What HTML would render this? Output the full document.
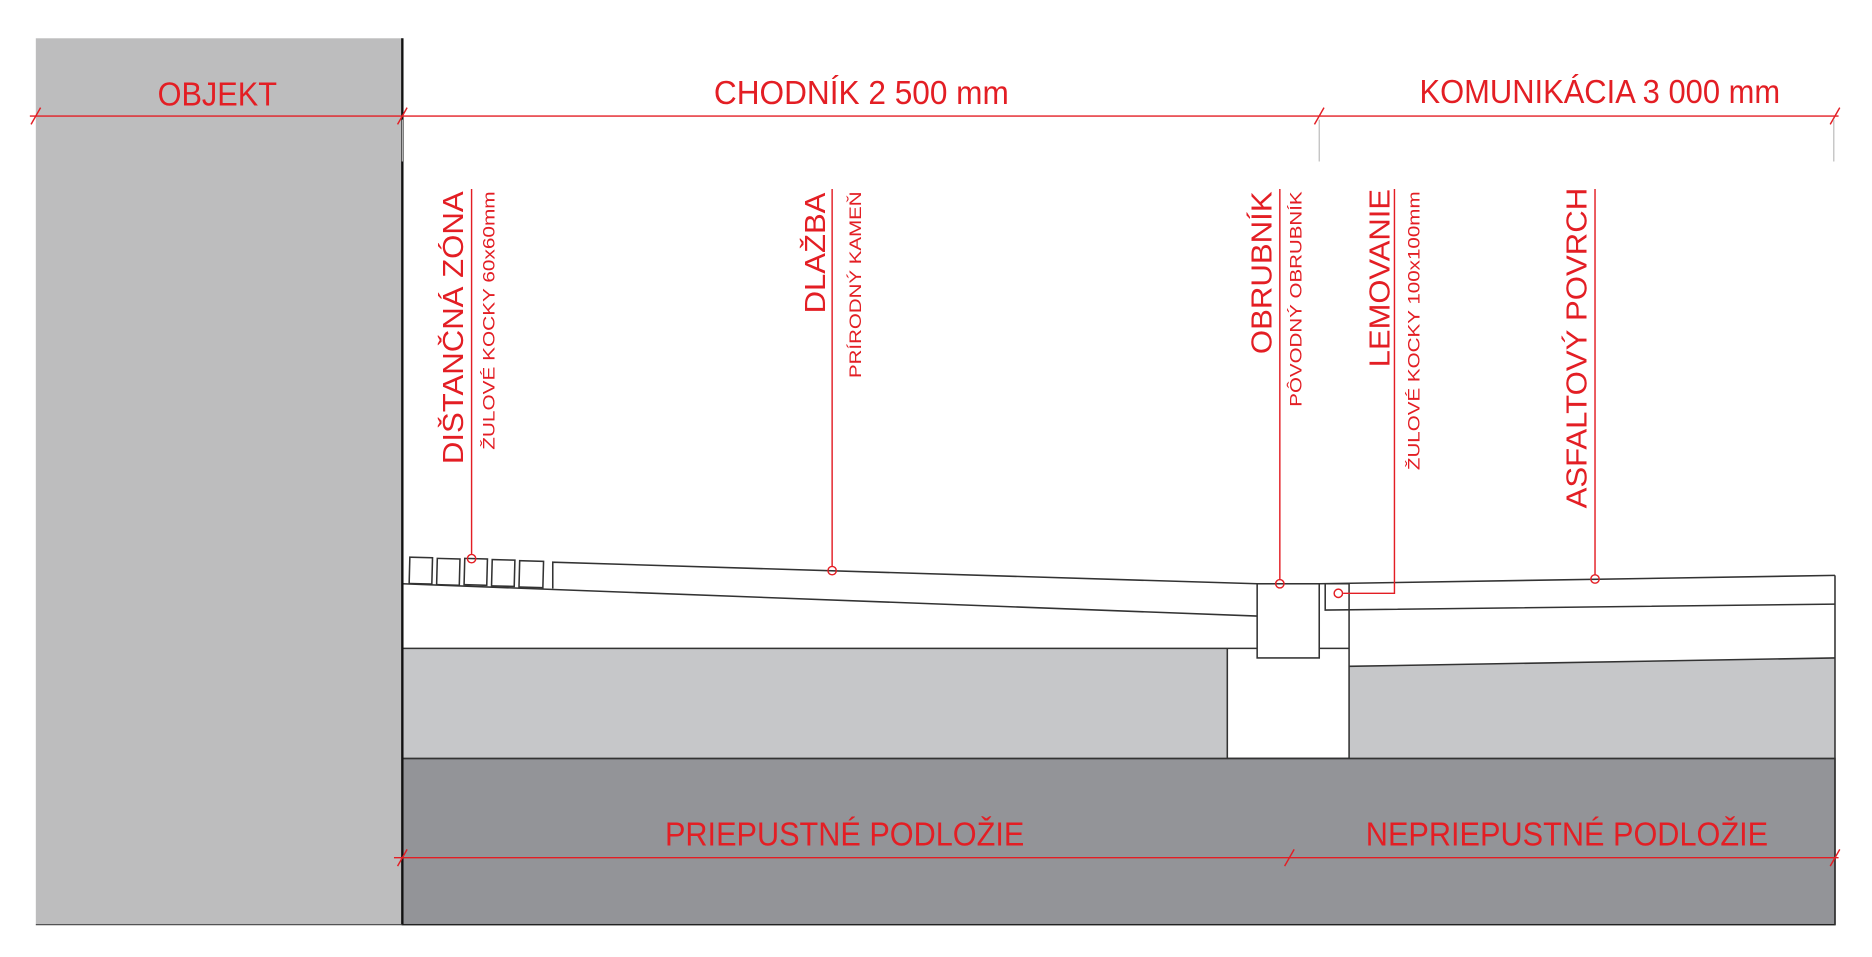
<!DOCTYPE html>
<html><head><meta charset="utf-8"><style>html,body{margin:0;padding:0;background:#fff;}svg{display:block;}</style></head>
<body>
<svg width="1872" height="957" viewBox="0 0 1568 800" preserveAspectRatio="none" xmlns="http://www.w3.org/2000/svg" font-family="Liberation Sans, sans-serif">
<rect width="1568" height="800" fill="#fff"/>
<rect x="30" y="32" width="307" height="741" fill="#bdbdbe"/>
<rect x="337" y="634" width="1200" height="139" fill="#939498" stroke="#222" stroke-width="1.2"/>
<rect x="337" y="542" width="691" height="92" fill="#c6c7c9"/>
<polygon points="1130,557 1537,550 1537,634 1130,634" fill="#c6c7c9"/>
<g fill="none" stroke="#333" stroke-width="1.3">
<line x1="337" y1="542" x2="1053" y2="542"/>
<line x1="1105" y1="542" x2="1130" y2="542"/>
<line x1="1028" y1="542" x2="1028" y2="634"/>
<line x1="1130" y1="488" x2="1130" y2="634"/>
<line x1="337" y1="634" x2="1537" y2="634"/>
<line x1="1130" y1="557" x2="1537" y2="550"/>
<line x1="1537" y1="481" x2="1537" y2="773"/>
<rect x="343" y="466" width="19" height="22" transform="rotate(1.5 352 477)"/>
<rect x="366" y="467" width="19" height="22" transform="rotate(1.5 375 478)"/>
<rect x="389" y="467" width="19" height="22" transform="rotate(1.5 398 478)"/>
<rect x="412" y="468" width="19" height="22" transform="rotate(1.5 421 479)"/>
<rect x="435" y="469" width="20" height="22" transform="rotate(1.5 445 480)"/>
<polyline points="463,492 463,470 1053,488"/>
<line x1="337" y1="488" x2="1053" y2="515"/>
<line x1="1053" y1="488" x2="1105" y2="488"/>
<rect x="1053" y="488" width="52" height="62" fill="#fff"/>
<line x1="1105" y1="488" x2="1537" y2="481"/>
<polyline points="1130,488 1110,488 1110,510 1537,505"/>
</g>
<line x1="337" y1="32" x2="337" y2="773" stroke="#111" stroke-width="2"/>
<line x1="30" y1="773" x2="337" y2="773" stroke="#444" stroke-width="1"/>
<g stroke="#e31e24" stroke-width="1.2" fill="none">
<line x1="25" y1="97" x2="1540" y2="97"/>
<line x1="26" y1="104" x2="34" y2="90"/>
<line x1="333" y1="104" x2="341" y2="90"/>
<line x1="1101" y1="104" x2="1109" y2="90"/>
<line x1="1533" y1="104" x2="1541" y2="90"/>
<line x1="330" y1="717" x2="1540" y2="717"/>
<line x1="333" y1="724" x2="341" y2="710"/>
<line x1="1076" y1="724" x2="1084" y2="710"/>
<line x1="1533" y1="724" x2="1541" y2="710"/>
<line x1="395" y1="158" x2="395" y2="464"/><circle cx="395" cy="467" r="3.5"/>
<line x1="697" y1="158" x2="697" y2="474"/><circle cx="697" cy="477" r="3.5"/>
<line x1="1072" y1="158" x2="1072" y2="485"/><circle cx="1072" cy="488" r="3.5"/>
<polyline points="1168,158 1168,496 1125,496"/><circle cx="1121" cy="496" r="3.5"/>
<line x1="1336" y1="158" x2="1336" y2="481"/><circle cx="1336" cy="484" r="3.5"/>
</g>
<g stroke="#bbb" stroke-width="1">
<line x1="337" y1="100" x2="337" y2="135"/>
<line x1="1105" y1="100" x2="1105" y2="135"/>
<line x1="1536" y1="100" x2="1536" y2="135"/>
</g>
<g fill="#e31e24" font-size="28">
<text x="132" y="88" textLength="100" lengthAdjust="spacingAndGlyphs">OBJEKT</text>
<text x="598" y="87" textLength="247" lengthAdjust="spacingAndGlyphs">CHODNÍK  2 500 mm</text>
<text x="1189" y="86" textLength="302" lengthAdjust="spacingAndGlyphs">KOMUNIKÁCIA 3 000 mm</text>
<text x="557" y="707" textLength="301" lengthAdjust="spacingAndGlyphs">PRIEPUSTNÉ PODLOŽIE</text>
<text x="1144" y="707" textLength="337" lengthAdjust="spacingAndGlyphs">NEPRIEPUSTNÉ PODLOŽIE</text>
</g>
<g fill="#e31e24">
<text font-size="24" transform="translate(388,388) rotate(-90)" textLength="228" lengthAdjust="spacingAndGlyphs">DIŠTANČNÁ ZÓNA</text>
<text font-size="14" transform="translate(414,376) rotate(-90)" textLength="216" lengthAdjust="spacingAndGlyphs">ŽULOVÉ KOCKY 60x60mm</text>
<text font-size="24" transform="translate(691,262) rotate(-90)" textLength="101" lengthAdjust="spacingAndGlyphs">DLAŽBA</text>
<text font-size="14" transform="translate(721,316) rotate(-90)" textLength="156" lengthAdjust="spacingAndGlyphs">PRÍRODNÝ KAMEŇ</text>
<text font-size="24" transform="translate(1065,296) rotate(-90)" textLength="136" lengthAdjust="spacingAndGlyphs">OBRUBNÍK</text>
<text font-size="14" transform="translate(1090,340) rotate(-90)" textLength="180" lengthAdjust="spacingAndGlyphs">PÔVODNÝ OBRUBNÍK</text>
<text font-size="24" transform="translate(1164,307) rotate(-90)" textLength="149" lengthAdjust="spacingAndGlyphs">LEMOVANIE</text>
<text font-size="14" transform="translate(1189,393) rotate(-90)" textLength="233" lengthAdjust="spacingAndGlyphs">ŽULOVÉ KOCKY 100x100mm</text>
<text font-size="24" transform="translate(1329,425) rotate(-90)" textLength="268" lengthAdjust="spacingAndGlyphs">ASFALTOVÝ POVRCH</text>
</g>
</svg>
</body></html>
